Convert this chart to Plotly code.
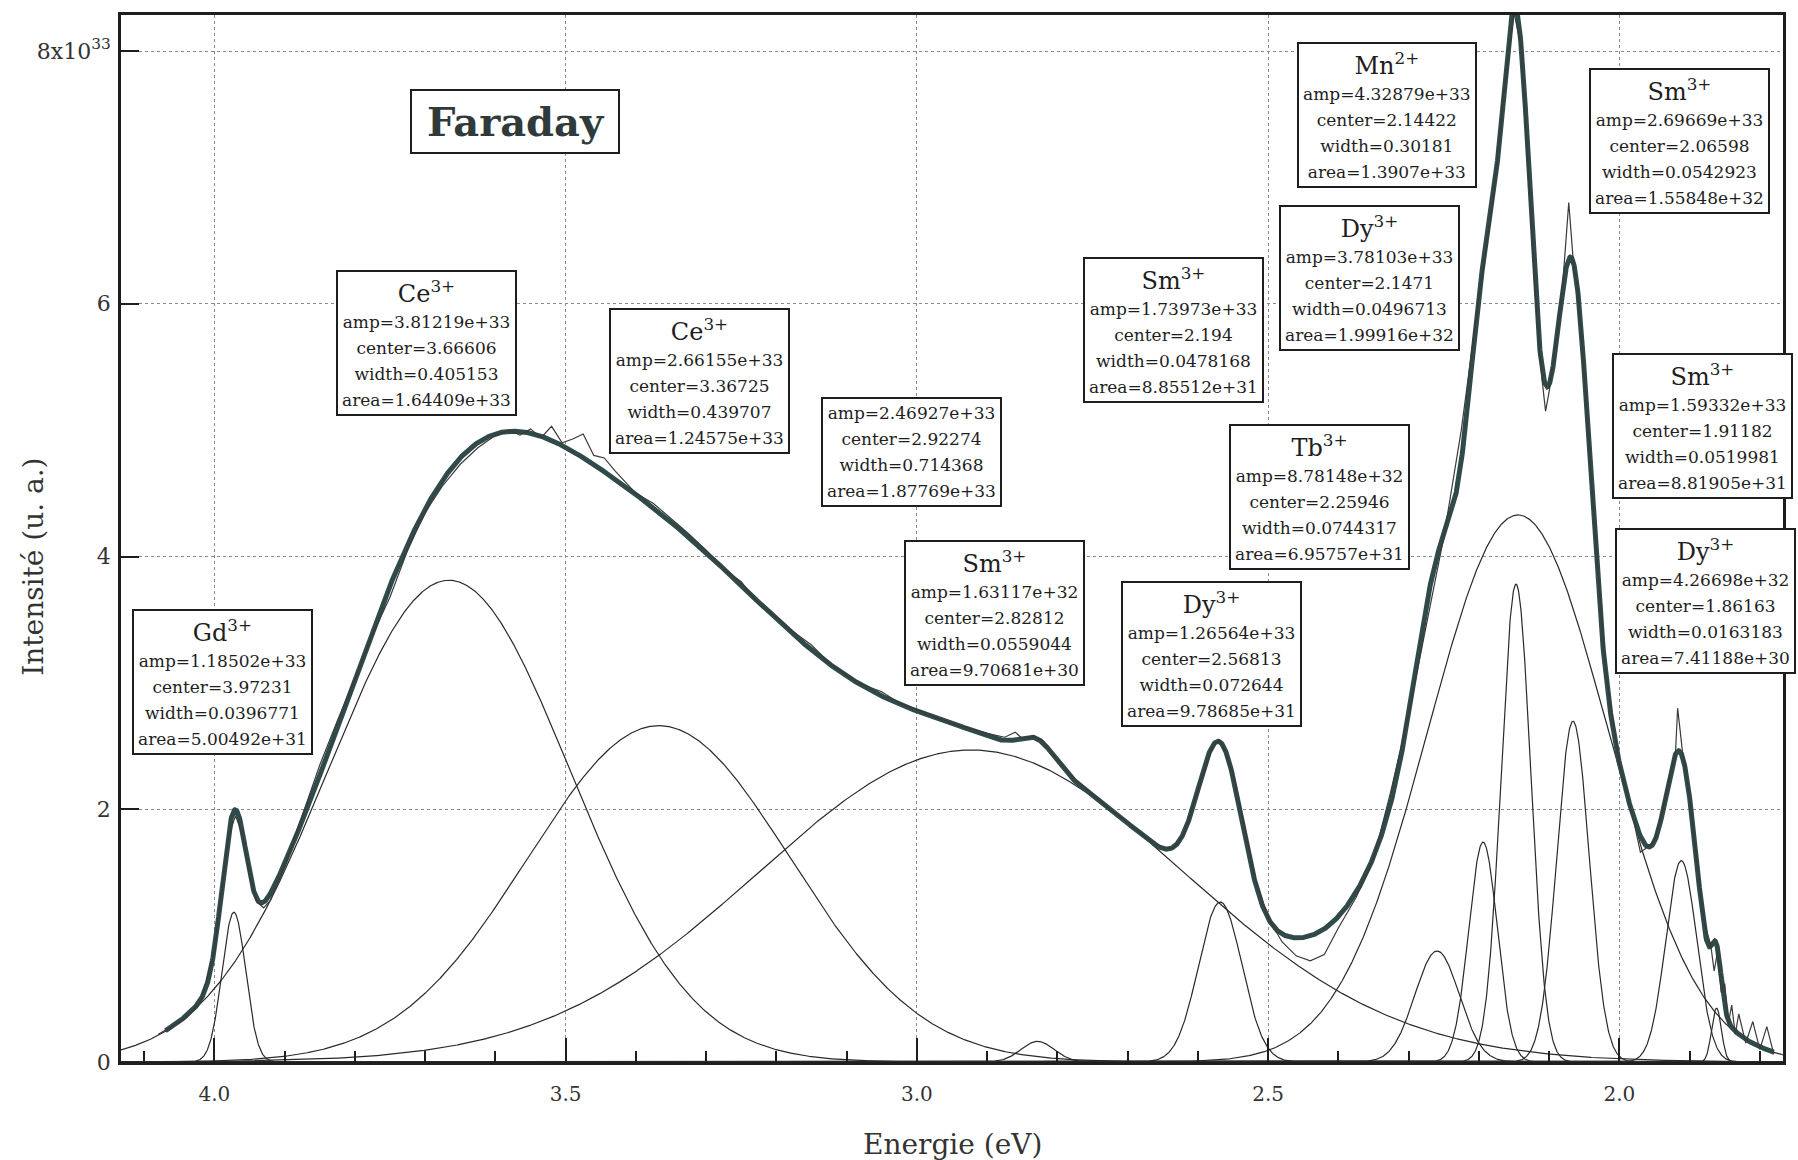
import numpy as np
import plotly.graph_objects as go

# ---------------- data (fit parameters printed in the boxes) ----------------
ions = ["Gd<sup>3+</sup>", "Ce<sup>3+</sup>", "Ce<sup>3+</sup>", "", "Sm<sup>3+</sup>",
        "Dy<sup>3+</sup>", "Sm<sup>3+</sup>", "Dy<sup>3+</sup>", "Tb<sup>3+</sup>",
        "Mn<sup>2+</sup>", "Sm<sup>3+</sup>", "Sm<sup>3+</sup>", "Dy<sup>3+</sup>"]
amps = [1.18502e33, 3.81219e33, 2.66155e33, 2.46927e33, 1.63117e32, 1.26564e33,
        1.73973e33, 3.78103e33, 8.78148e32, 4.32879e33, 2.69669e33, 1.59332e33, 4.26698e32]
centers = [3.97231, 3.66606, 3.36725, 2.92274, 2.82812, 2.56813,
           2.194, 2.1471, 2.25946, 2.14422, 2.06598, 1.91182, 1.86163]
widths = [0.0396771, 0.405153, 0.439707, 0.714368, 0.0559044, 0.072644,
          0.0478168, 0.0496713, 0.0744317, 0.30181, 0.0542923, 0.0519981, 0.0163183]
areas = [5.00492e31, 1.64409e33, 1.24575e33, 1.87769e33, 9.70681e30, 9.78685e31,
         8.85512e31, 1.99916e32, 6.95757e31, 1.3907e33, 1.55848e32, 8.81905e31, 7.41188e30]

meas_E = [4.08, 4.06, 4.04, 4.02, 4.00, 3.99, 3.98, 3.97, 3.96, 3.95, 3.94, 3.93, 3.92,
          3.90, 3.875, 3.85, 3.825, 3.80, 3.775, 3.75, 3.725, 3.70, 3.675, 3.65, 3.625,
          3.60, 3.58, 3.565, 3.55, 3.535, 3.52, 3.505, 3.49, 3.475, 3.46, 3.445, 3.43,
          3.40, 3.375, 3.35, 3.325, 3.30, 3.275, 3.25, 3.225, 3.20, 3.175, 3.15, 3.125,
          3.10, 3.075, 3.05, 3.025, 3.00, 2.975, 2.95, 2.925, 2.90, 2.875, 2.86, 2.85,
          2.835, 2.82, 2.80, 2.775, 2.75, 2.725, 2.70, 2.675, 2.65, 2.635, 2.62, 2.60,
          2.58, 2.57, 2.56, 2.55, 2.535, 2.52, 2.50, 2.48, 2.46, 2.44, 2.42, 2.40, 2.375,
          2.35, 2.325, 2.30, 2.275, 2.25, 2.225, 2.20, 2.18, 2.165, 2.15, 2.14, 2.13,
          2.12, 2.11, 2.105, 2.10, 2.09, 2.08, 2.072, 2.065, 2.06, 2.05, 2.04, 2.02,
          2.00, 1.98, 1.97, 1.96, 1.95, 1.94, 1.93, 1.92, 1.917, 1.91, 1.90, 1.89, 1.88,
          1.87, 1.865, 1.86, 1.855, 1.85, 1.845, 1.84, 1.835, 1.83, 1.82, 1.81, 1.80,
          1.79, 1.78]
meas_I = [0.22, 0.28, 0.35, 0.47, 0.88, 1.32, 1.78, 1.95, 1.80, 1.48, 1.27, 1.22, 1.28,
          1.55, 1.95, 2.35, 2.70, 3.03, 3.38, 3.68, 4.05, 4.35, 4.56, 4.73, 4.86,
          4.96, 5.00, 4.96, 5.01, 4.94, 5.03, 4.90, 4.93, 4.97, 4.80, 4.78, 4.68,
          4.50, 4.42, 4.30, 4.18, 4.05, 3.90, 3.80, 3.62, 3.52, 3.40, 3.30, 3.16,
          3.06, 2.98, 2.93, 2.84, 2.79, 2.73, 2.68, 2.64, 2.60, 2.57, 2.61, 2.56,
          2.58, 2.54, 2.39, 2.24, 2.12, 2.00, 1.90, 1.78, 1.70, 1.69, 1.80, 2.15,
          2.48, 2.55, 2.45, 2.28, 1.90, 1.48, 1.14, 0.95, 0.84, 0.80, 0.85, 1.06, 1.30,
          1.60, 2.15, 2.75, 3.45, 4.15, 5.00, 6.05, 6.80, 7.65, 8.30, 8.05, 7.10,
          6.10, 5.40, 5.15, 5.30, 5.70, 6.20, 6.80, 6.30, 6.15, 5.45, 4.60, 3.12,
          2.36, 1.92, 1.66, 1.70, 1.75, 1.95, 2.22, 2.45, 2.80, 2.45, 2.10, 1.60, 1.12,
          0.93, 0.72, 0.88, 0.55, 0.62, 0.30, 0.45, 0.22, 0.38, 0.15, 0.32, 0.10,
          0.28, 0.06]

y_tickvals = [0, 2, 4, 6, 8]
y_ticktext = ["0", "2", "4", "6", "8x10<sup>33</sup>"]
x_tickvals = [4.0, 3.5, 3.0, 2.5, 2.0]
x_ticktext = ["4.0", "3.5", "3.0", "2.5", "2.0"]
UNIT = 1e33

# ---------------- layout constants ----------------
X_RANGE = [4.133, 1.767]
Y_RANGE = [0, 8.285]
FIT_RANGE = (4.07, 1.78)
# box centres (eV, 1e33) for each component label
label_pos = [(3.988, 3.01), (3.698, 5.69), (3.310, 5.39), (3.007, 4.83), (2.889, 3.55),
             (2.581, 3.23), (2.635, 5.79), (2.355, 6.20), (2.427, 4.47), (2.331, 7.49),
             (1.915, 7.29), (1.881, 5.03), (1.877, 3.65)]

SERIF = "DejaVu Serif"
INK = "#1e1e1e"
FIT_COLOR = "#2f4a48"


def gauss(x, a, c, w):
    return a * np.exp(-4 * np.log(2) * ((x - c) / w) ** 2)


E = np.linspace(X_RANGE[0], X_RANGE[1], 4000)
fig = go.Figure()

for a, c, w in zip(amps, centers, widths):
    fig.add_trace(go.Scatter(x=E, y=gauss(E, a, c, w), mode="lines",
                             line=dict(color="#2a2a2a", width=1.2),
                             hoverinfo="skip", showlegend=False))

Ef = E[(E <= FIT_RANGE[0]) & (E >= FIT_RANGE[1])]
fit = sum(gauss(Ef, a, c, w) for a, c, w in zip(amps, centers, widths))
fig.add_trace(go.Scatter(x=Ef, y=fit, mode="lines",
                         line=dict(color=FIT_COLOR, width=5),
                         showlegend=False))
fig.add_trace(go.Scatter(x=meas_E, y=[v * UNIT for v in meas_I], mode="lines",
                         line=dict(color="#3a3a3a", width=1.2),
                         showlegend=False))

P = '<span style="font-size:17px">{}</span>'
for ion, a, c, w, ar, (px, py) in zip(ions, amps, centers, widths, areas, label_pos):
    lines = []
    if ion:
        lines.append(f'<span style="font-size:24px">{ion}</span>')
    lines += [P.format(f"amp={a:.6g}"), P.format(f"center={c:.6g}"),
              P.format(f"width={w:.6g}"), P.format(f"area={ar:.6g}")]
    fig.add_annotation(x=px, y=py * UNIT, xref="x", yref="y", text="<br>".join(lines),
                       showarrow=False, align="center",
                       font=dict(family=SERIF, size=20, color=INK),
                       bgcolor="white", bordercolor=INK, borderwidth=2, borderpad=4)

fig.add_annotation(x=3.572, y=7.44 * UNIT, xref="x", yref="y",
                   text="&#8201;<b>Faraday</b>&#8201;",
                   showarrow=False, font=dict(family=SERIF, size=40, color="#2f3b3b"),
                   bgcolor="white", bordercolor=INK, borderwidth=2, borderpad=7)

fig.add_annotation(x=0.5, y=0, xref="paper", yref="paper", yshift=-82, yanchor="middle",
                   text="Energie (eV)", showarrow=False,
                   font=dict(family=SERIF, size=28, color="#333"))
fig.add_annotation(x=0, y=0.473, xref="paper", yref="paper", xshift=-87, xanchor="center",
                   yanchor="middle", textangle=-90, text="Intensité (u. a.)", showarrow=False,
                   font=dict(family=SERIF, size=28, color="#333"))

fig.update_xaxes(range=X_RANGE, showline=True, linewidth=2.5, linecolor=INK, mirror=True,
                 tickmode="array", tickvals=x_tickvals, ticktext=x_ticktext,
                 ticks="inside", ticklen=24, tickwidth=1.5, tickcolor=INK,
                 minor=dict(dtick=0.1, ticks="inside", ticklen=11, tickwidth=1.5,
                            tickcolor=INK, showgrid=False),
                 showgrid=True, gridcolor="#8a8a8a", griddash="dot", gridwidth=1,
                 tickfont=dict(family=SERIF, size=20, color="#333"),
                 ticklabelstandoff=12, zeroline=False)
fig.update_yaxes(range=[Y_RANGE[0] * UNIT, Y_RANGE[1] * UNIT], showline=True, linewidth=2.5,
                 linecolor=INK, mirror=True, tickmode="array",
                 tickvals=[v * UNIT for v in y_tickvals], ticktext=y_ticktext,
                 ticks="inside", ticklen=18, tickwidth=2, tickcolor=INK,
                 showgrid=True, gridcolor="#8a8a8a", griddash="dot", gridwidth=1,
                 tickfont=dict(family=SERIF, size=22, color="#333"),
                 ticklabelstandoff=3, zeroline=False)

fig.update_layout(width=1798, height=1160, plot_bgcolor="white", paper_bgcolor="white",
                  margin=dict(l=121, r=13, t=12, b=98), showlegend=False)

fig.write_html("out.html", config={"displayModeBar": False},
               post_script="document.body.style.margin='0';")
